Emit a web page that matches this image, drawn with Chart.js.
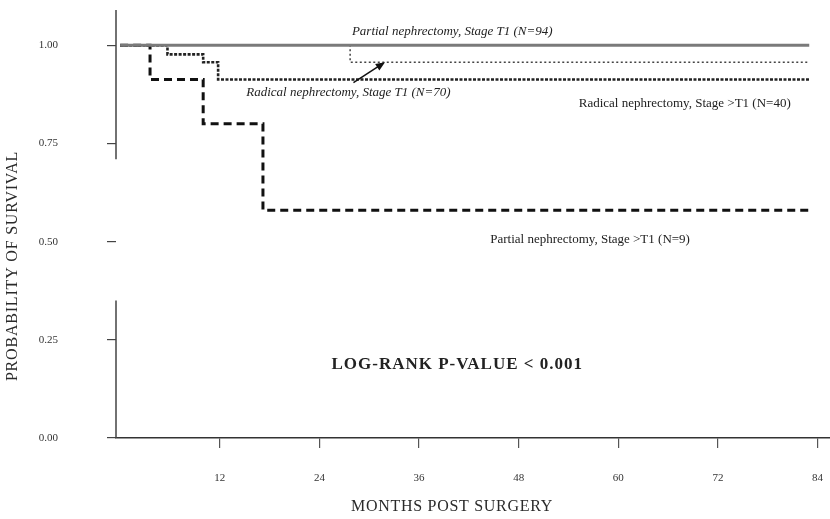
<!DOCTYPE html>
<html>
<head>
<meta charset="utf-8">
<script src="https://cdn.jsdelivr.net/npm/chart.js@4/dist/chart.umd.min.js"></script>
<style>
  html, body { margin: 0; padding: 0; background: #fff; }
  #wrap { width: 830px; height: 519px; position: relative; }
</style>
</head>
<body>
<div id="wrap"><canvas id="km"></canvas></div>
<script>
// Axis ticks
const xTicks = [12, 24, 36, 48, 60, 72, 84];
const yTicks = [0, 0.25, 0.5, 0.75, 1.0];

// Kaplan-Meier step curves: event times (months) and survival after each step
const partialT1Months = [0, 83];
const partialT1Surv   = [1.0, 1.0];

const radicalT1Months = [0, 27.7, 83];
const radicalT1Surv   = [1.0, 0.957, 0.957];

const radicalGtT1Months = [0, 5.7, 10.0, 11.8, 83];
const radicalGtT1Surv   = [1.0, 0.977, 0.957, 0.913, 0.913];

const partialGtT1Months = [0, 3.6, 10.0, 17.2, 83];
const partialGtT1Surv   = [1.0, 0.913, 0.80, 0.58, 0.58];

const seriesLabels = [
  'Partial nephrectomy, Stage T1 (N=94)',
  'Radical nephrectomy, Stage T1 (N=70)',
  'Radical nephrectomy, Stage >T1 (N=40)',
  'Partial nephrectomy, Stage >T1 (N=9)'
];

const toPoints = (xs, ys) => xs.map((v, i) => ({ x: v, y: ys[i] }));

const SERIF = '"Liberation Serif", "DejaVu Serif", serif';

// keep the plot area fixed: no extra room reserved for tick label overhang
function noOverhang(scale) {
  scale.paddingTop = 0;
  scale.paddingBottom = 0;
  scale.paddingLeft = 0;
  scale.paddingRight = 0;
}

// Curve labels, arrow, broken y axis line and axis titles
const annotate = {
  id: 'annotate',
  afterDatasetsDraw(chart) {
    const { ctx, scales: { x, y } } = chart;
    ctx.save();

    // y axis line, interrupted between 0.35 and 0.71
    ctx.strokeStyle = '#444';
    ctx.lineWidth = 1.5;
    ctx.beginPath();
    ctx.moveTo(x.left, y.getPixelForValue(y.max));
    ctx.lineTo(x.left, y.getPixelForValue(0.71));
    ctx.moveTo(x.left, y.getPixelForValue(0.35));
    ctx.lineTo(x.left, y.getPixelForValue(0));
    ctx.stroke();

    ctx.fillStyle = '#222';
    ctx.textAlign = 'center';
    ctx.textBaseline = 'middle';

    ctx.font = 'italic 13px ' + SERIF;
    ctx.fillText(seriesLabels[0], x.getPixelForValue(40), y.getPixelForValue(1.036));
    ctx.fillText(seriesLabels[1], x.getPixelForValue(27.5), y.getPixelForValue(0.88));

    ctx.font = '13px ' + SERIF;
    ctx.fillText(seriesLabels[2], x.getPixelForValue(68), y.getPixelForValue(0.852));
    ctx.fillText(seriesLabels[3], x.getPixelForValue(56.6), y.getPixelForValue(0.505));

    ctx.font = 'bold 17px ' + SERIF;
    ctx.letterSpacing = '1px';
    ctx.fillText('LOG-RANK P-VALUE < 0.001', x.getPixelForValue(40.6), y.getPixelForValue(0.186));
    ctx.letterSpacing = '0px';

    // arrow from the Radical T1 label to its curve
    const x0 = x.getPixelForValue(28.1), y0 = y.getPixelForValue(0.905);
    const x1 = x.getPixelForValue(31.9), y1 = y.getPixelForValue(0.957);
    const ang = Math.atan2(y1 - y0, x1 - x0);
    ctx.strokeStyle = '#111';
    ctx.lineWidth = 1.5;
    ctx.beginPath();
    ctx.moveTo(x0, y0);
    ctx.lineTo(x1 - 6 * Math.cos(ang), y1 - 6 * Math.sin(ang));
    ctx.stroke();
    ctx.fillStyle = '#111';
    ctx.beginPath();
    ctx.moveTo(x1, y1);
    ctx.lineTo(x1 - 10 * Math.cos(ang - 0.4), y1 - 10 * Math.sin(ang - 0.4));
    ctx.lineTo(x1 - 10 * Math.cos(ang + 0.4), y1 - 10 * Math.sin(ang + 0.4));
    ctx.closePath();
    ctx.fill();

    // axis titles
    ctx.fillStyle = '#2a2a2a';
    ctx.font = '16px ' + SERIF;
    ctx.letterSpacing = '0.7px';
    ctx.fillText('MONTHS POST SURGERY', 452, chart.height - 12);
    ctx.letterSpacing = '0.8px';
    ctx.translate(13, 266);
    ctx.rotate(-Math.PI / 2);
    ctx.fillText('PROBABILITY OF SURVIVAL', 0, 0);
    ctx.restore();
  }
};

new Chart(document.getElementById('km'), {
  type: 'line',
  data: {
    datasets: [
      {
        label: seriesLabels[0],
        data: toPoints(partialT1Months, partialT1Surv),
        borderColor: '#7a7a7a',
        borderWidth: 3,
        order: 0
      },
      {
        label: seriesLabels[1],
        data: toPoints(radicalT1Months, radicalT1Surv),
        borderColor: '#444',
        borderWidth: 1.5,
        borderDash: [2, 2.5],
        order: 1
      },
      {
        label: seriesLabels[2],
        data: toPoints(radicalGtT1Months, radicalGtT1Surv),
        borderColor: '#222',
        borderWidth: 2.6,
        borderDash: [3, 1.5],
        order: 2
      },
      {
        label: seriesLabels[3],
        data: toPoints(partialGtT1Months, partialGtT1Surv),
        borderColor: '#111',
        borderWidth: 3,
        borderDash: [8, 5],
        order: 3
      }
    ]
  },
  options: {
    responsive: true,
    maintainAspectRatio: false,
    animation: false,
    events: [],
    layout: { padding: { top: 10, right: 0, left: 0, bottom: 0 } },
    elements: {
      point: { radius: 0 },
      line: { stepped: 'before', fill: false, tension: 0, borderCapStyle: 'butt' }
    },
    plugins: { legend: { display: false }, tooltip: { enabled: false } },
    scales: {
      x: {
        type: 'linear',
        min: -0.5,
        max: 85.5,
        afterFit(scale) { scale.height = 81; noOverhang(scale); },
        afterBuildTicks(scale) { scale.ticks = xTicks.map(v => ({ value: v })); },
        grid: { drawOnChartArea: false, drawTicks: true, tickLength: 10, color: '#555', lineWidth: 1.2 },
        border: { display: true, color: '#333', width: 1.6 },
        ticks: {
          padding: 24,
          maxRotation: 0,
          autoSkip: false,
          color: '#333',
          font: { family: SERIF, size: 11 },
          callback: v => String(v)
        }
      },
      y: {
        type: 'linear',
        min: 0,
        max: 1.09,
        afterFit(scale) { scale.width = 116; noOverhang(scale); },
        afterBuildTicks(scale) { scale.ticks = yTicks.map(v => ({ value: v })); },
        grid: { drawOnChartArea: false, drawTicks: true, tickLength: 9, color: '#444', lineWidth: 1.2 },
        border: { display: false },
        ticks: {
          padding: 49,
          color: '#333',
          font: { family: SERIF, size: 11 },
          callback: v => Number(v).toFixed(2)
        }
      }
    }
  },
  plugins: [annotate]
});
</script>
</body>
</html>
